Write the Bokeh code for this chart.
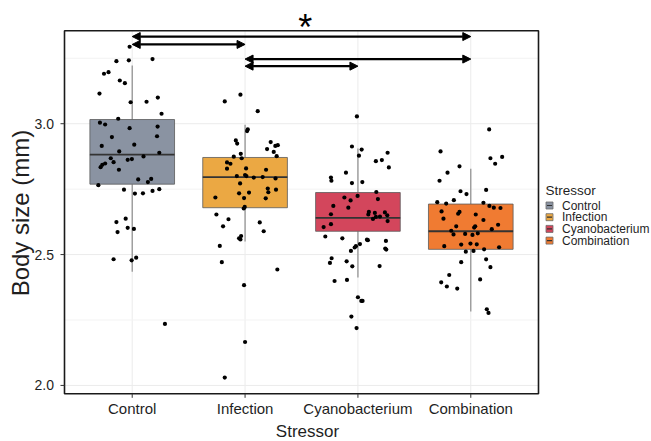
import math
from bokeh.plotting import figure
from bokeh.models import Range1d, Label, ColumnDataSource, Arrow, NormalHead
from bokeh.embed import file_html
from bokeh.resources import INLINE
from bokeh.core.properties import value

groups = ["Control", "Infection", "Cyanobacterium", "Combination"]
colors = ["#8A93A2", "#EBA843", "#D3465C", "#F07B32"]

# box statistics
q1 = [2.769, 2.679, 2.589, 2.520]
med = [2.882, 2.796, 2.640, 2.589]
q3 = [3.016, 2.871, 2.737, 2.693]
w_lo = [2.434, 2.550, 2.412, 2.282]
w_hi = [3.222, 2.996, 2.905, 2.828]

# y axis ticks / grid
y_ticks = [2.0, 2.5, 3.0]
y_tick_labels = ["2.0", "2.5", "3.0"]
y_minor = [2.25, 2.75, 3.25]

# jittered observations: horizontal jitter offsets and body size (mm)
control_dx = [-0.023, -0.14, -0.03, 0.18, -0.25, -0.21, -0.11, -0.065, -0.29, -0.014,
              0.127, 0.227, 0.26, -0.124, -0.286, -0.24, -0.023, 0.225, -0.18, 0.22,
              -0.27, 0.018, -0.115, 0.24, 0.10, -0.19, -0.003, -0.04, -0.165, -0.24,
              -0.265, -0.28, -0.118, 0.053, 0.168, 0.139, -0.30, -0.073, 0.24, 0.18,
              0.024, 0.095, -0.058, -0.14, -0.04, 0.015, -0.13, -0.165, -0.005, 0.035, 0.29]
control_y = [3.294, 3.239, 3.242, 3.247, 3.191, 3.197, 3.165, 3.155, 3.115, 3.082,
             3.084, 3.100, 3.038, 3.019, 3.004, 2.997, 2.983, 2.989, 2.949, 2.952,
             2.915, 2.920, 2.894, 2.889, 2.875, 2.868, 2.865, 2.862, 2.853, 2.848,
             2.843, 2.834, 2.824, 2.787, 2.789, 2.777, 2.765, 2.748, 2.750, 2.743,
             2.733, 2.734, 2.637, 2.624, 2.602, 2.598, 2.586, 2.482, 2.478, 2.488, 2.235]

infection_dx = [-0.041, -0.18, 0.112, 0.024, 0.018, -0.082, -0.07, 0.227, 0.268, 0.29,
                0.195, 0.254, 0.28, -0.038, -0.1, -0.03, -0.16, -0.13, -0.16, 0.009,
                0.186, -0.073, 0.0, 0.012, 0.077, 0.156, 0.27, -0.044, 0.201, 0.274,
                0.206, -0.053, 0.035, -0.263, -0.009, 0.183, -0.003, -0.012, -0.254, -0.147,
                -0.195, 0.13, 0.165, -0.035, -0.053, -0.041, -0.224, -0.206, 0.286, -0.009,
                0.0, -0.18]
infection_y = [3.111, 3.085, 3.048, 2.978, 2.972, 2.936, 2.924, 2.930, 2.915, 2.918,
               2.903, 2.892, 2.876, 2.885, 2.874, 2.868, 2.852, 2.847, 2.828, 2.829,
               2.824, 2.800, 2.804, 2.800, 2.794, 2.796, 2.791, 2.772, 2.752, 2.748,
               2.738, 2.734, 2.737, 2.718, 2.716, 2.715, 2.682, 2.676, 2.653, 2.635,
               2.608, 2.623, 2.589, 2.571, 2.562, 2.558, 2.533, 2.471, 2.443, 2.383,
               2.166, 2.030]

cyano_dx = [-0.009, -0.053, 0.033, 0.009, 0.263, 0.159, 0.212, 0.274, -0.106, -0.239,
            -0.235, -0.053, 0.039, 0.163, -0.12, -0.003, -0.065, 0.177, -0.218, -0.085,
            0.097, 0.150, 0.239, -0.239, 0.092, 0.26, 0.159, 0.195, 0.133, 0.263,
            -0.239, -0.304, -0.289, -0.138, 0.08, 0.088, 0.248, 0.018, -0.018, -0.029,
            -0.062, 0.242, 0.251, -0.233, -0.248, -0.1, -0.05, 0.192, -0.207, -0.097,
            0.0, 0.03, 0.041, -0.058, -0.012]
cyano_y = [3.028, 2.913, 2.901, 2.878, 2.889, 2.857, 2.861, 2.833, 2.813, 2.794,
           2.782, 2.773, 2.777, 2.739, 2.718, 2.724, 2.707, 2.712, 2.686, 2.679,
           2.663, 2.659, 2.661, 2.654, 2.653, 2.650, 2.644, 2.645, 2.636, 2.628,
           2.616, 2.605, 2.569, 2.562, 2.557, 2.555, 2.552, 2.540, 2.532, 2.527,
           2.514, 2.523, 2.519, 2.486, 2.468, 2.474, 2.455, 2.456, 2.399, 2.403,
           2.337, 2.323, 2.323, 2.263, 2.219]

combo_dx = [0.163, -0.268, 0.174, 0.278, 0.216, -0.1, -0.206, -0.277, 0.136, -0.091,
            -0.038, -0.15, -0.297, -0.218, 0.112, 0.165, 0.204, 0.263, -0.259, -0.1,
            -0.112, 0.044, -0.242, 0.112, -0.129, 0.039, 0.030, 0.242, 0.186, -0.173,
            -0.153, -0.05, 0.015, 0.062, -0.085, -0.003, 0.053, -0.235, 0.251, 0.118,
            -0.044, 0.024, 0.136, -0.085, 0.174, -0.191, 0.083, -0.262, -0.212, -0.12,
            0.142, 0.157]
combo_y = [2.978, 2.894, 2.868, 2.873, 2.847, 2.837, 2.813, 2.782, 2.747, 2.742,
           2.731, 2.708, 2.700, 2.695, 2.698, 2.686, 2.679, 2.678, 2.665, 2.663,
           2.656, 2.653, 2.637, 2.632, 2.608, 2.608, 2.603, 2.614, 2.597, 2.591,
           2.577, 2.579, 2.575, 2.581, 2.538, 2.542, 2.539, 2.532, 2.528, 2.520,
           2.511, 2.514, 2.482, 2.471, 2.452, 2.422, 2.405, 2.394, 2.378, 2.370,
           2.291, 2.277]

# significance brackets: from group, to group, height
cmp_from = [1, 1, 2, 2]
cmp_to = [4, 2, 4, 3]
cmp_y = [3.333, 3.303, 3.247, 3.220]
star_text = "*"

x_title = "Stressor"
y_title = "Body size (mm)"
legend_title = "Stressor"

FONT = "Liberation Sans"
TXT = "#1f1f1f"

# ---- layout: panel box in pixels and its data limits ----
W, H = 651, 441
L, R, T, B = 64.0, 538.0, 30.3, 393.3
PX0, PX1 = 0.4, 4.6
PY0, PY1 = 1.968, 3.355
ux = (PX1 - PX0) / (R - L)
uy = (PY1 - PY0) / (B - T)
x_start, x_end = PX0 - L * ux, PX1 + (W - R) * ux
y_start, y_end = PY0 - (H - B) * uy, PY1 + T * uy


def X(px):
    return x_start + px * ux


def Y(py):
    return y_end - py * uy


p = figure(width=W, height=H, output_backend="svg", toolbar_location=None,
           x_range=Range1d(x_start, x_end), y_range=Range1d(y_start, y_end),
           min_border=0, min_border_left=0, min_border_right=0,
           min_border_top=0, min_border_bottom=0)
p.xaxis.visible = False
p.yaxis.visible = False
p.xgrid.visible = False
p.ygrid.visible = False
p.outline_line_color = None
p.background_fill_color = "white"
p.border_fill_color = "white"

xs = list(range(1, len(groups) + 1))

# grid lines inside the panel
p.segment(x0=xs, y0=[PY0] * len(xs), x1=xs, y1=[PY1] * len(xs),
          line_color="#ebebeb", line_width=1)
p.segment(x0=[PX0] * 3, y0=y_minor, x1=[PX1] * 3, y1=y_minor,
          line_color="#f3f3f3", line_width=1)
p.segment(x0=[PX0] * 3, y0=y_ticks, x1=[PX1] * 3, y1=y_ticks,
          line_color="#ebebeb", line_width=1)

# whiskers
p.segment(x0=xs, y0=w_lo, x1=xs, y1=q1, line_color="#8c8c8c", line_width=1.2)
p.segment(x0=xs, y0=q3, x1=xs, y1=w_hi, line_color="#8c8c8c", line_width=1.2)

# boxes
for i, g in enumerate(groups):
    p.vbar(x=[xs[i]], width=0.75, bottom=[q1[i]], top=[q3[i]],
           fill_color=colors[i], line_color="#5a5a5a", line_width=0.8)
# medians
p.segment(x0=[x - 0.375 for x in xs], y0=med, x1=[x + 0.375 for x in xs], y1=med,
          line_color="#333333", line_width=1.8)

# jittered points
all_dx = [control_dx, infection_dx, cyano_dx, combo_dx]
all_y = [control_y, infection_y, cyano_y, combo_y]
px, py = [], []
for i, (dx, yy) in enumerate(zip(all_dx, all_y)):
    px += [xs[i] + d for d in dx]
    py += yy
p.scatter(x=px, y=py, size=4.2, fill_color="black", line_color=None)

# significance arrows
arr_src = ColumnDataSource(dict(x0=cmp_from, x1=cmp_to, y=cmp_y))
p.add_layout(Arrow(source=arr_src, x_start="x0", y_start="y", x_end="x1", y_end="y",
                   line_width=2.2, line_color="black",
                   start=NormalHead(size=8, fill_color="black", line_color="black", line_width=1),
                   end=NormalHead(size=8, fill_color="black", line_color="black", line_width=1)))

# asterisk above the panel
p.add_layout(Label(x=X(304.7), y=Y(27.0), text=star_text, text_font=FONT,
                   text_font_size="36px", text_align="center",
                   text_baseline="alphabetic", text_color="black"))

# panel border
p.quad(left=[PX0], right=[PX1], bottom=[PY0], top=[PY1], fill_color=None,
       line_color="#1a1a1a", line_width=1.6)

# y axis: ticks, labels, title
p.segment(x0=[X(L - 4)] * 3, y0=y_ticks, x1=[PX0] * 3, y1=y_ticks,
          line_color="#333333", line_width=1)
p.text(x=[X(L - 10.5)] * 3, y=y_ticks, text=y_tick_labels, text_font=value(FONT),
       text_font_size=value("14px"), text_align="right", text_baseline="middle",
       text_color=TXT)
p.text(x=[X(20)], y=[Y(212.5)], text=[y_title], angle=math.pi / 2,
       text_font=value(FONT), text_font_size=value("24px"), text_align="center",
       text_baseline="middle", text_color=TXT)

# x axis: ticks, labels, title
p.segment(x0=xs, y0=[PY0] * 4, x1=xs, y1=[Y(B + 4)] * 4, line_color="#333333", line_width=1)
p.text(x=xs, y=[Y(407.5)] * 4, text=groups, text_font=value(FONT),
       text_font_size=value("15px"), text_align="center", text_baseline="middle",
       text_color=TXT)
p.text(x=[X(307)], y=[Y(431)], text=[x_title], text_font=value(FONT),
       text_font_size=value("17px"), text_align="center", text_baseline="middle",
       text_color=TXT)

# legend (drawn beside the panel)
p.text(x=[X(545)], y=[Y(190)], text=[legend_title], text_font=value(FONT),
       text_font_size=value("13.5px"), text_align="left", text_baseline="alphabetic",
       text_color=TXT)
leg_y = [Y(205 + 11.7 * i) for i in range(len(groups))]
p.rect(x=[X(549)] * len(groups), y=leg_y, width=7, height=7, width_units="screen",
       height_units="screen", fill_color=colors, line_color="#6a6a6a", line_width=0.8)
p.rect(x=[X(549)] * len(groups), y=leg_y, width=5, height=1.2, width_units="screen",
       height_units="screen", fill_color="#333333", line_color=None)
p.text(x=[X(561.5)] * len(groups), y=leg_y, text=groups, text_font=value(FONT),
       text_font_size=value("12px"), text_align="left", text_baseline="middle",
       text_color=TXT)

open("out.html", "w").write(file_html(p, INLINE))
